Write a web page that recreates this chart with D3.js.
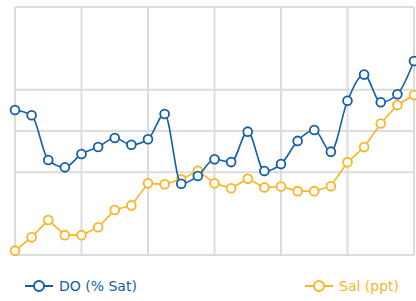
<!DOCTYPE html>
<html>
<head>
<meta charset="utf-8">
<script src="https://cdn.jsdelivr.net/npm/d3@7"></script>
<style>
  html, body { margin: 0; padding: 0; background: #fff; }
  svg { display: block; }
</style>
</head>
<body>
<div id="chart"></div>
<script>
// samples along the x axis (no labels shown)
const samples = d3.range(25);

const doSat = [87.7, 84.5, 57.5, 53.0, 61.1, 65.3, 70.8, 66.7, 70.0, 85.3,
  43.1, 47.8, 57.9, 56.2, 74.6, 50.8, 55.0, 69.0, 75.6, 62.5,
  93.3, 109.1, 92.4, 97.2, 117.3];

const salPpt = [0.7, 2.85, 5.65, 3.2, 3.2, 4.47, 7.26, 8.0, 11.56, 11.4,
  12.2, 13.6, 11.56, 10.76, 12.3, 10.9, 11.05, 10.3, 10.3, 11.1,
  14.95, 17.4, 21.2, 24.2, 25.8];

const doTicks = [0, 50, 100, 150];
const salTicks = [0, 20, 40];
const xTicks = [0, 4, 8, 12, 16, 20, 24];

const width = 416, height = 301;
const margin = { top: 7, right: 2, bottom: 46, left: 15 };
const blue = '#135ea8', yellow = '#fbb524', grid = '#dcdcdc';

const svg = d3.select('#chart').append('svg')
  .attr('width', width)
  .attr('height', height);

const x = d3.scaleLinear()
  .domain([0, samples.length - 1])
  .range([margin.left, width - margin.right]);

const yDo = d3.scaleLinear()
  .domain([0, 150])
  .range([height - margin.bottom, margin.top]);

const ySal = d3.scaleLinear()
  .domain([0, 40])
  .range([height - margin.bottom, margin.top]);

// grid
const g = svg.append('g');
g.selectAll('.vg').data(xTicks).enter().append('line')
  .attr('x1', d => x(d)).attr('x2', d => x(d))
  .attr('y1', margin.top).attr('y2', height - margin.bottom)
  .attr('stroke', grid).attr('stroke-width', 2);
g.selectAll('.hg1').data(doTicks).enter().append('line')
  .attr('x1', margin.left).attr('x2', width - margin.right)
  .attr('y1', d => yDo(d)).attr('y2', d => yDo(d))
  .attr('stroke', grid).attr('stroke-width', 2);
g.selectAll('.hg2').data(salTicks).enter().append('line')
  .attr('x1', margin.left).attr('x2', width - margin.right)
  .attr('y1', d => ySal(d)).attr('y2', d => ySal(d))
  .attr('stroke', grid).attr('stroke-width', 2);

function drawSeries(values, y, color, curve) {
  const line = d3.line()
    .x((d, i) => x(i))
    .y(d => y(d))
    .curve(curve);
  svg.append('path')
    .datum(values)
    .attr('fill', 'none')
    .attr('stroke', color)
    .attr('stroke-width', 1.6)
    .attr('d', line);
  svg.append('g').selectAll('circle')
    .data(values)
    .enter()
    .append('circle')
    .attr('cx', (d, i) => x(i))
    .attr('cy', d => y(d))
    .attr('r', 4.4)
    .attr('fill', '#fff')
    .attr('stroke', color)
    .attr('stroke-width', 1.8);
}

drawSeries(salPpt, ySal, yellow, d3.curveLinear);
drawSeries(doSat, yDo, blue, d3.curveMonotoneX);

// legend
const legend = [
  { label: 'DO (% Sat)', color: blue, x: 25 },
  { label: 'Sal (ppt)', color: yellow, x: 305 }
];
const lg = svg.append('g').selectAll('g').data(legend).enter().append('g')
  .attr('transform', d => `translate(${d.x},286)`);
lg.append('line')
  .attr('x1', 0).attr('x2', 28)
  .attr('stroke', d => d.color).attr('stroke-width', 2);
lg.append('circle')
  .attr('cx', 14).attr('r', 5)
  .attr('fill', '#fff')
  .attr('stroke', d => d.color).attr('stroke-width', 2);
lg.append('text')
  .attr('x', 34).attr('y', 5)
  .attr('fill', d => d.color)
  .style('font-family', '"DejaVu Sans", Verdana, sans-serif')
  .style('font-size', '14px')
  .text(d => d.label);
</script>
</body>
</html>
